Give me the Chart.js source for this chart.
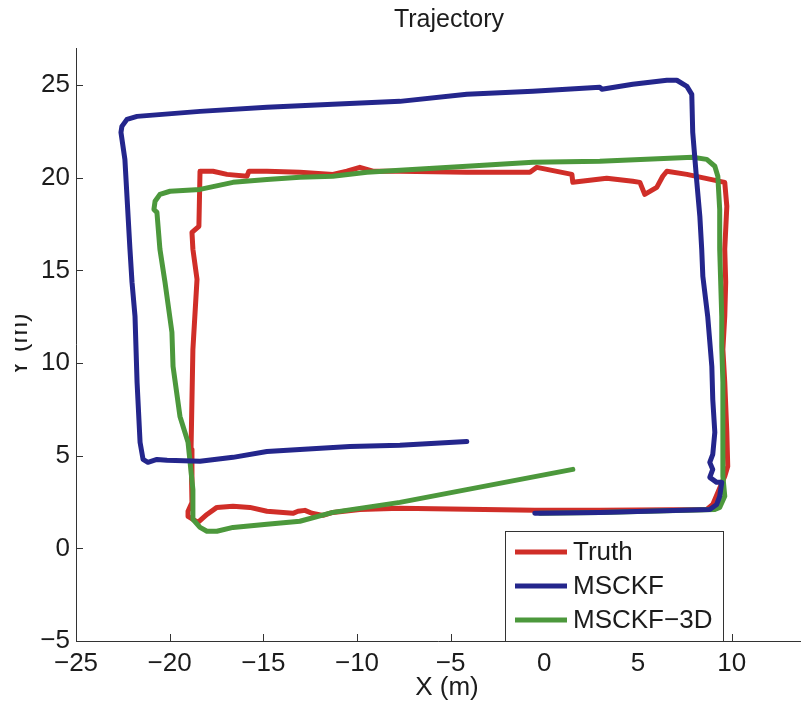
<!DOCTYPE html>
<html>
<head>
<meta charset="utf-8">
<title>Trajectory</title>
<script src="https://cdn.jsdelivr.net/npm/chart.js@4.4.1/dist/chart.umd.min.js"></script>
<style>
  html, body { margin: 0; padding: 0; background: #fff; }
  #wrap { width: 801px; height: 709px; }
</style>
</head>
<body>
<div id="wrap"><canvas id="traj" width="801" height="709"></canvas></div>
<script>
// values, in metres
const truthX = [-0.51, 2.96, 8.67, 8.99, 9.63, 9.79, 9.74, 9.63, 9.53, 9.63, 9.68, 9.63, 9.74, 9.63,
  7.61, 6.54, 6.32, 6.00, 5.36, 5.10, 4.72, 3.33, 1.52, 1.47, -0.40, -0.77, -4.14, -7.71, -9.15,
  -9.85, -10.54, -11.29, -13.05, -14.81, -15.77, -15.87, -16.94, -17.69, -18.38, -18.44, -18.81,
  -18.76, -18.54, -18.76, -18.86, -18.81, -19.02, -19.02, -18.49, -18.01, -17.48, -16.62, -15.72,
  -14.81, -13.42, -13.15, -12.78, -12.41, -11.82, -11.29, -9.85, -7.71, -0.51];
const truthY = [2.05, 2.05, 2.10, 2.37, 3.89, 4.43, 6.26, 8.96, 10.74, 12.52, 14.36, 16.14, 18.46, 19.75,
  20.18, 20.35, 20.08, 19.48, 19.10, 19.75, 19.81, 19.97, 19.75, 20.18, 20.56, 20.29, 20.29, 20.35, 20.35,
  20.56, 20.35, 20.18, 20.29, 20.35, 20.35, 20.08, 20.18, 20.35, 20.35, 17.38, 17.05,
  16.14, 14.52, 10.74, 5.34, 2.48, 2.00, 1.73, 1.40, 1.83, 2.21, 2.27, 2.21,
  2.00, 1.89, 2.00, 2.05, 1.89, 1.78, 1.94, 2.10, 2.16, 2.05];

const msckfX = [-0.51, 2.96, 8.83, 9.20, 9.36, 9.47, 9.20, 8.83, 8.99, 8.83, 8.99, 9.10, 8.99, 8.94,
  8.72, 8.46, 8.40, 8.30, 8.14, 7.92, 7.87, 7.61, 7.07, 6.54, 4.72, 3.07, 2.96, -0.61, -4.14, -7.71,
  -11.29, -14.81, -18.38, -21.74, -22.28, -22.55, -22.60, -22.39, -22.12, -22.01, -21.85, -21.74,
  -21.58, -21.42, -21.16, -20.68, -20.14, -18.38, -16.62, -14.81, -13.05, -10.38, -7.71, -4.14];
const msckfY = [1.89, 1.94, 2.10, 2.37, 2.81, 3.56, 3.56, 3.83, 4.26, 4.64, 5.07, 6.26, 8.04, 9.82,
  12.52, 14.68, 16.14, 17.92, 19.75, 22.45, 24.50, 24.93, 25.26, 25.26, 25.04, 24.77, 24.88, 24.66, 24.50, 24.12,
  23.96, 23.80, 23.58, 23.31, 23.15, 22.77, 22.45, 20.99, 16.14, 14.36, 12.52, 8.96,
  5.72, 4.80, 4.64, 4.80, 4.75, 4.70, 4.91, 5.23, 5.34, 5.50, 5.56, 5.77];

const msckf3dX = [-0.24, 2.96, 9.10, 9.36, 9.63, 9.53, 9.53, 9.53, 9.47, 9.47, 9.36, 9.36, 9.26, 9.10,
  8.67, 7.92, 2.96, -0.61, -4.14, -7.71, -9.47, -11.29, -13.05, -14.81, -16.62, -18.38, -19.98,
  -20.52, -20.78, -20.84, -20.68, -20.52, -20.25, -19.88, -19.82, -19.45, -19.02, -18.76, -18.76,
  -18.38, -18.01, -17.48, -16.62, -14.81, -13.05, -11.29, -7.71, 1.52];
const msckf3dY = [1.89, 1.94, 2.10, 2.21, 2.81, 3.89, 6.26, 8.96, 10.90, 12.52, 16.14, 18.29, 20.08, 20.62,
  20.99, 21.10, 20.89, 20.83, 20.62, 20.40, 20.29, 20.08, 20.02, 19.91, 19.75, 19.37, 19.27,
  19.10, 18.73, 18.29, 18.13, 16.14, 14.36, 11.66, 9.82, 7.12, 5.72, 3.18, 1.57,
  1.13, 0.92, 0.92, 1.13, 1.30, 1.46, 1.94, 2.48, 4.26];

// matlab renders the hyphen as a minus sign
const seriesNames = ['Truth', 'MSCKF', 'MSCKF\u22123D'];
const xTicks = [-25, -20, -15, -10, -5, 0, 5, 10];
const yTicks = [-5, 0, 5, 10, 15, 20, 25];

const FONT = '"Liberation Sans", Arial, Helvetica, sans-serif';
const INK = '#1c1c1c';
const RED = 'rgb(208, 46, 40)';
const BLUE = 'rgb(36, 38, 140)';
const GREEN = 'rgb(76, 152, 60)';

const toPoints = (xs, ys) => xs.map((x, i) => ({ x: x, y: ys[i] }));
const fmt = v => (v < 0 ? '\u2212' + Math.abs(v) : String(v));

// matlab-ish decorations: inward ticks, axis lines, labels, boxed legend
const matlabAxes = {
  id: 'matlabAxes',
  beforeDatasetsDraw(chart) {
    const { ctx, chartArea: a, scales: { x, y } } = chart;
    ctx.save();
    ctx.strokeStyle = '#333';
    ctx.lineWidth = 1;
    ctx.beginPath();
    ctx.moveTo(a.left + 0.5, a.top);
    ctx.lineTo(a.left + 0.5, a.bottom + 0.5);
    ctx.lineTo(a.right, a.bottom + 0.5);
    xTicks.forEach(v => {
      const px = Math.round(x.getPixelForValue(v)) + 0.5;
      ctx.moveTo(px, a.bottom);
      ctx.lineTo(px, a.bottom - 7);
    });
    yTicks.forEach(v => {
      const py = Math.round(y.getPixelForValue(v)) + 0.5;
      ctx.moveTo(a.left, py);
      ctx.lineTo(a.left + 7, py);
    });
    ctx.stroke();
    ctx.restore();
  },
  afterDatasetsDraw(chart) {
    const { ctx, chartArea: a } = chart;
    ctx.save();
    ctx.fillStyle = INK;
    ctx.textAlign = 'center';
    ctx.textBaseline = 'alphabetic';
    ctx.font = '25px ' + FONT;
    ctx.fillText('Trajectory', 449, 27);
    ctx.font = '26px ' + FONT;
    ctx.fillText('X (m)', 447, 695);

    // y title is cut off at the left edge in the source
    ctx.save();
    ctx.beginPath();
    ctx.rect(15, 0, 60, chart.height);
    ctx.clip();
    ctx.translate(27, 345);
    ctx.rotate(-Math.PI / 2);
    ctx.fillText('Y (m)', 0, 0);
    ctx.restore();

    // legend box
    const bl = a.right - 296, br = a.right - 78, bt = a.bottom - 110, bb = a.bottom;
    ctx.fillStyle = '#fff';
    ctx.fillRect(bl, bt, br - bl, bb - bt);
    ctx.strokeStyle = '#333';
    ctx.lineWidth = 1;
    ctx.strokeRect(bl + 0.5, bt + 0.5, br - bl, bb - bt);
    const colors = [RED, BLUE, GREEN];
    ctx.textAlign = 'left';
    ctx.textBaseline = 'middle';
    seriesNames.forEach((name, i) => {
      const ry = bt + 21 + i * 34;
      ctx.strokeStyle = colors[i];
      ctx.lineWidth = 5;
      ctx.beginPath();
      ctx.moveTo(bl + 10, ry);
      ctx.lineTo(bl + 62, ry);
      ctx.stroke();
      ctx.fillStyle = INK;
      ctx.fillText(name, bl + 68, ry + 1);
    });
    ctx.restore();
  }
};

const lineStyle = {
  borderWidth: 5,
  pointRadius: 0,
  tension: 0,
  fill: false,
  borderJoinStyle: 'round',
  borderCapStyle: 'round'
};

new Chart(document.getElementById('traj').getContext('2d'), {
  type: 'line',
  data: {
    datasets: [
      { label: seriesNames[0], data: toPoints(truthX, truthY), borderColor: RED, order: 2, ...lineStyle },
      { label: seriesNames[1], data: toPoints(msckfX, msckfY), borderColor: BLUE, order: 0, ...lineStyle },
      { label: seriesNames[2], data: toPoints(msckf3dX, msckf3dY), borderColor: GREEN, order: 1, ...lineStyle }
    ]
  },
  options: {
    responsive: false,
    animation: false,
    devicePixelRatio: 1,
    layout: { padding: { top: 48, right: 0, bottom: 0, left: 0 } },
    scales: {
      x: {
        type: 'linear',
        min: -25,
        max: 13.7,
        grid: { display: false, drawTicks: false },
        border: { display: false },
        afterBuildTicks: s => { s.ticks = xTicks.map(v => ({ value: v })); },
        afterFit: s => { s.height = 68; },
        ticks: { padding: 7, color: INK, font: { family: FONT, size: 26 }, callback: fmt, maxRotation: 0, autoSkip: false }
      },
      y: {
        type: 'linear',
        min: -5,
        max: 27,
        grid: { display: false, drawTicks: false },
        border: { display: false },
        afterBuildTicks: s => { s.ticks = yTicks.map(v => ({ value: v })); },
        afterFit: s => { s.width = 76; },
        ticks: { padding: 6, color: INK, font: { family: FONT, size: 26 }, callback: fmt, autoSkip: false }
      }
    },
    plugins: {
      legend: { display: false },
      tooltip: { enabled: false },
      title: { display: false }
    }
  },
  plugins: [matlabAxes]
});
</script>
</body>
</html>
